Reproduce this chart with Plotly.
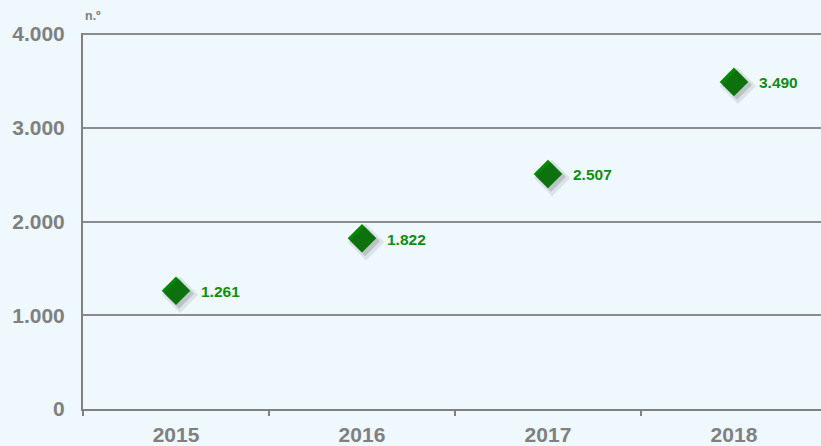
import plotly.graph_objects as go

years = ["2015", "2016", "2017", "2018"]
values = [1261, 1822, 2507, 3490]
y_ticks = [0, 1000, 2000, 3000, 4000]
y_tick_labels = ["0", "1.000", "2.000", "3.000", "4.000"]
unit_label = "n.º"

def fmt(v):
    return f"{v:,}".replace(",", ".")

labels = [fmt(v) for v in values]
idx = list(range(len(years)))

rng = [-0.5, 3.468]
yrng = [0, 4012]
px_per_unit_x = (821 - 83) / (rng[1] - rng[0])
px_per_unit_y = (446 - 33 - 35) / (yrng[1] - yrng[0])

fig = go.Figure()

# soft blurred shadow behind markers (two layers)
for size, alpha, off in [(28, 0.10, 4), (23, 0.18, 3)]:
    fig.add_trace(go.Scatter(
        x=[i + off / px_per_unit_x for i in idx],
        y=[v - off / px_per_unit_y for v in values],
        mode="markers",
        marker=dict(symbol="diamond", size=size, color=f"rgba(50,50,50,{alpha})", line=dict(width=0)),
        hoverinfo="skip", showlegend=False, xaxis="x2",
    ))

fig.add_trace(go.Scatter(
    x=years, y=values,
    mode="markers",
    marker=dict(symbol="diamond", size=22, color="#008A00", line=dict(width=0)),
    showlegend=False,
))

# value labels (placed on the overlay numeric axis, shifted in pixels)
fig.add_trace(go.Scatter(
    x=[i + 25 / px_per_unit_x for i in idx],
    y=[v - 2.5 / px_per_unit_y for v in values],
    mode="text", text=labels,
    textposition="middle right",
    textfont=dict(family="Liberation Sans, Arial", size=15.5, color="#128C12", weight="bold"),
    hoverinfo="skip", showlegend=False, xaxis="x2",
))

fig.update_layout(
    width=821, height=446,
    margin=dict(l=83, r=0, t=33, b=35),
    paper_bgcolor="#EEF8FD", plot_bgcolor="#EEF8FD",
    font=dict(family="Liberation Sans, Arial", color="#808080"),
    xaxis=dict(
        type="category", range=rng, showgrid=False, zeroline=False,
        showline=True, linecolor="#808080", linewidth=2,
        ticks="outside", tickson="boundaries", ticklen=5, tickcolor="#808080", tickwidth=2,
        ticklabelstandoff=6,
        tickfont=dict(size=21, color="#808080", weight="bold"),
    ),
    xaxis2=dict(overlaying="x", range=rng, visible=False),
    yaxis=dict(
        range=yrng, tickvals=y_ticks, ticktext=y_tick_labels,
        showgrid=True, gridcolor="#8C8C8C", gridwidth=1.5, zeroline=False,
        showline=True, linecolor="#808080", linewidth=2,
        ticks="", ticklabelstandoff=12,
        tickfont=dict(size=21, color="#808080", weight="bold"),
    ),
    annotations=[dict(
        text=unit_label, x=0, xref="paper", y=1, yref="paper",
        xanchor="left", yanchor="bottom", yshift=8, showarrow=False,
        font=dict(size=12.5, color="#808080", weight="bold"),
    )],
)

fig.write_html(
    "out.html",
    config={"displayModeBar": False},
    post_script="document.body.style.margin='0';document.body.style.background='#EEF8FD';",
)
